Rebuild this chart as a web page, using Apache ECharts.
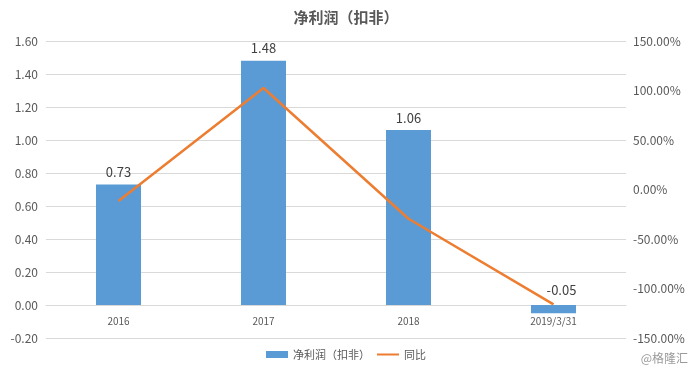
<!DOCTYPE html>
<html><head><meta charset="utf-8">
<script src="https://cdn.jsdelivr.net/npm/echarts@6/dist/echarts.min.js"></script>
<style>html,body{margin:0;padding:0;background:#fff}#c{width:692px;height:373px}</style>
</head><body><div id="c"></div>
<script>
const categories = ['2016', '2017', '2018', '2019/3/31'];
const profitValues = [0.73, 1.48, 1.06, -0.05];
const yoyValues = [-11.6, 102.5, -29.5, -116];
const leftTicks = { min: -0.2, max: 1.6, interval: 0.2 };
const rightTicks = { min: -150, max: 150, interval: 50 };

const FONT = '"Noto Sans CJK SC", "Noto Sans", sans-serif';
const chart = echarts.init(document.getElementById('c'), null, { renderer: 'canvas' });
chart.setOption({
  animation: false,
  backgroundColor: '#fff',
  title: {
    text: '净利润（扣非）', left: 'center', top: 5,
    textStyle: { fontFamily: FONT, fontSize: 15, fontWeight: 'bold', color: '#595959' }
  },
  legend: {
    bottom: 8, left: 'center', itemGap: 6, itemWidth: 22, itemHeight: 7,
    textStyle: { fontFamily: FONT, fontSize: 11, color: '#595959' },
    data: [
      { name: '净利润（扣非）', icon: 'rect' },
      { name: '同比', itemStyle: { color: 'rgba(0,0,0,0)', borderWidth: 0, opacity: 0 } }
    ]
  },
  graphic: [{
    type: 'text', right: 4, bottom: 9,
    style: { text: '@格隆汇', fill: '#9a9a9a', font: '12px ' + FONT }
  }],
  grid: { left: 46, right: 66, top: 41, bottom: 35 },
  xAxis: {
    type: 'category', data: categories,
    axisLine: { show: true, onZero: false, lineStyle: { color: '#D9D9D9' } },
    axisTick: { show: false },
    axisLabel: { fontFamily: FONT, fontSize: 10, color: '#595959', margin: 11 }
  },
  yAxis: [{
    type: 'value', min: leftTicks.min, max: leftTicks.max, interval: leftTicks.interval,
    axisLine: { show: false, onZero: false }, axisTick: { show: false },
    splitLine: { lineStyle: { color: '#D9D9D9' } },
    axisLabel: { fontFamily: FONT, fontSize: 12, color: '#595959', margin: 8,
      formatter: v => v.toFixed(2) }
  }, {
    type: 'value', min: rightTicks.min, max: rightTicks.max, interval: rightTicks.interval,
    axisLine: { show: false, onZero: false }, axisTick: { show: false }, splitLine: { show: false },
    axisLabel: { fontFamily: FONT, fontSize: 12, color: '#595959', margin: 7,
      formatter: v => v.toFixed(2) + '%' }
  }],
  series: [{
    name: '净利润（扣非）', type: 'bar', barWidth: 45, yAxisIndex: 0,
    itemStyle: { color: '#5B9BD5' },
    label: { show: true, position: 'top', distance: 6, fontFamily: FONT, fontSize: 13,
      color: '#404040', formatter: p => p.value.toFixed(2) },
    data: profitValues.map((v, i) => i === profitValues.length - 1
      ? { value: v, label: { position: 'top', distance: 8, offset: [8, 0] } } : v)
  }, {
    name: '同比', type: 'line', yAxisIndex: 1, symbol: 'none',
    lineStyle: { color: '#ED7D31', width: 2.5 }, itemStyle: { color: '#ED7D31' },
    data: yoyValues
  }]
});
// move the category axis up to the zero line of the left value axis
const zeroY = chart.convertToPixel({ yAxisIndex: 0 }, 0);
const minY = chart.convertToPixel({ yAxisIndex: 0 }, leftTicks.min);
chart.setOption({ xAxis: { offset: zeroY - minY } });
</script></body></html>
